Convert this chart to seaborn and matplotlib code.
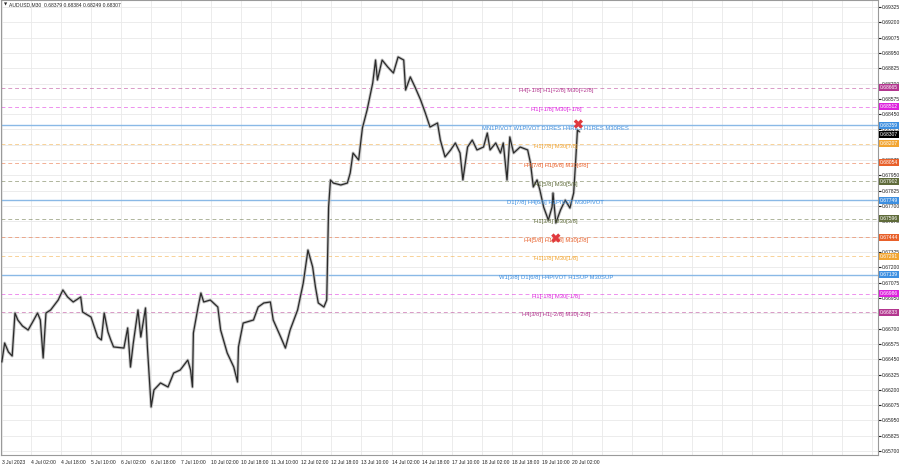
import matplotlib
matplotlib.use("Agg")
import matplotlib.pyplot as plt
import matplotlib.ticker as mticker
import numpy as np
import seaborn as sns

# M30 bar index (0 = first visible bar) and close price
bars = [0, 3, 7, 11, 14, 17, 22, 28, 34, 38,
        41, 44, 47, 52, 60, 65, 70, 76, 84, 86,
        95, 102, 106, 109, 113, 116, 119, 130, 134, 137,
        140, 145, 148, 153, 155, 159, 162, 169, 177, 183,
        190, 198, 201, 203, 204, 209, 212, 215, 222, 230,
        233, 240, 247, 251, 252, 257, 268, 273, 279, 286,
        289, 297, 302, 307, 315, 321, 326, 331, 334, 337,
        343, 346, 348, 350, 353, 361, 368, 371, 374, 380,
        384, 389, 395, 398, 400, 405, 411, 417, 422, 428,
        430, 435, 440, 446, 451, 456, 464, 467, 472, 478,
        483, 488, 491, 496, 501, 506, 513, 517, 520, 526,
        531, 534, 538, 541, 545, 552, 560, 563, 566, 570,
        573, 577, 582, 586, 587, 590, 595, 600, 605, 609,
        611, 613, 615]
close = [0.66427, 0.66582, 0.66509, 0.66476, 0.66827, 0.66770, 0.66721, 0.66688, 0.66770, 0.66827,
         0.66770, 0.66460, 0.66827, 0.66852, 0.66933, 0.67015, 0.66958, 0.66917, 0.66958, 0.66835,
         0.66794, 0.66631, 0.66607, 0.66827, 0.66672, 0.66607, 0.66550, 0.66541, 0.66705, 0.66386,
         0.66582, 0.66852, 0.66631, 0.66868, 0.66550, 0.66060, 0.66199, 0.66256, 0.66223, 0.66337,
         0.66362, 0.66443, 0.66362, 0.66223, 0.66664, 0.66876, 0.66990, 0.66917, 0.66933, 0.66876,
         0.66688, 0.66501, 0.66386, 0.66264, 0.66550, 0.66745, 0.66770, 0.66876, 0.66909, 0.66917,
         0.66770, 0.66631, 0.66541, 0.66688, 0.66852, 0.67072, 0.67341, 0.67203, 0.67039, 0.66909,
         0.66876, 0.66933, 0.67692, 0.67913, 0.67888, 0.67872, 0.67888, 0.67970, 0.68133, 0.68076,
         0.68337, 0.68484, 0.68705, 0.68892, 0.68729, 0.68892, 0.68835, 0.68786, 0.68917, 0.68892,
         0.68647, 0.68754, 0.68672, 0.68566, 0.68460, 0.68345, 0.68378, 0.68239, 0.68101, 0.68158,
         0.68215, 0.68133, 0.67913, 0.68182, 0.68239, 0.68158, 0.68182, 0.68296, 0.68158, 0.68215,
         0.68133, 0.68215, 0.67913, 0.68264, 0.68133, 0.68182, 0.68158, 0.68052, 0.67856, 0.67913,
         0.67831, 0.67692, 0.67586, 0.67692, 0.67807, 0.67562, 0.67668, 0.67749, 0.67684, 0.67807,
         0.68052, 0.68321, 0.68307]

# Murrey / pivot levels
levels = [0.68665, 0.68512, 0.68359, 0.68207, 0.68054, 0.67902, 0.67749,
          0.67596, 0.67444, 0.67291, 0.67139, 0.66986, 0.66833]
level_names = ["H4[+1/8] H1[+2/8] M30[+2/8]",
               "H1[+1/8] M30[+1/8]",
               "MN1PIVOT W1PIVOT D1RES H4RES H1RES M30RES",
               "H1[7/8] M30[7/8]",
               "H4[7/8] H1[6/8] M30[6/8]",
               "H1[5/8] M30[5/8]",
               "D1[7/8] H4[6/8] H1PIVOT M30PIVOT",
               "H1[3/8] M30[3/8]",
               "H4[5/8] H1[2/8] M30[2/8]",
               "H1[1/8] M30[1/8]",
               "W1[3/8] D1[6/8] H4PIVOT H1SUP M30SUP",
               "H1[-1/8] M30[-1/8]",
               "H4[3/8] H1[-2/8] M30[-2/8]"]
level_kind = ["pink", "magenta", "blue", "orange", "red", "olive", "blue",
              "olive", "red", "orange", "blue", "magenta", "pink"]

# reversal marks (bar, price)
mark_bars = [614, 590]
mark_price = [0.68370, 0.67439]

last_price = 0.68307
x_labels = ["3 Jul 2023", "4 Jul 02:00", "4 Jul 18:00", "5 Jul 10:00", "6 Jul 02:00",
            "6 Jul 18:00", "7 Jul 10:00", "10 Jul 02:00", "10 Jul 18:00", "11 Jul 10:00",
            "12 Jul 02:00", "12 Jul 18:00", "13 Jul 10:00", "14 Jul 02:00", "14 Jul 18:00",
            "17 Jul 10:00", "18 Jul 02:00", "18 Jul 18:00", "19 Jul 10:00", "20 Jul 02:00"]
title = "AUDUSD,M30  0.68379 0.68384 0.68249 0.68307"

palette = {"pink": "#b3368f", "magenta": "#dd22dd", "blue": "#3d8fe0",
           "orange": "#f2a531", "red": "#e8602a", "olive": "#5f6b3a"}

sns.set_style("white")
plt.rcParams["font.family"] = ["Liberation Sans Narrow", "Liberation Sans", "DejaVu Sans"]
small = 3.6

fig = plt.figure(figsize=(9, 4.68), dpi=100)
ax = fig.add_axes([0.001, 13 / 468, 877 / 900, 455 / 468])

ax.set_xlim(-1, 933)
ax.set_ylim(0.65668, 0.69382)

# grid: price scale steps of 0.00125 starting at 0.65700
ax.yaxis.set_major_locator(mticker.FixedLocator(np.arange(0.65700, 0.6935, 0.00125)))
ax.yaxis.set_major_formatter(mticker.FormatStrFormatter("%.5f"))
grid_pos = list(range(31, 933, 32))
ax.set_xticks([0] + grid_pos)
ax.set_xticklabels(x_labels + [""] * (len(grid_pos) + 1 - len(x_labels)),
                   ha="left", fontsize=small)
ax.grid(True, color="#e9e9e9", lw=0.6)
ax.set_axisbelow(True)

ax.yaxis.tick_right()
ax.tick_params(axis="y", labelsize=small, length=2, pad=1, colors="#222222")
ax.tick_params(axis="x", labelsize=small, length=2, pad=1.5, colors="#222222")
for s in ax.spines.values():
    s.set_color("#9a9a9a")
    s.set_linewidth(0.8)

# levels
for lv, name, kind in zip(levels, level_names, level_kind):
    col = palette[kind]
    if kind == "blue":
        ax.axhline(lv, color="#8ab9e6", lw=1.0, zorder=1)
    else:
        ax.axhline(lv, color=col, lw=0.7, ls=(0, (4, 3)), alpha=0.5, zorder=1)
    ax.text(590, lv - 0.00022, name, color=col, fontsize=4.2, ha="center",
            va="center", zorder=4)
    ax.text(1.002, lv, f"{lv:.5f}", transform=ax.get_yaxis_transform(),
            fontsize=small, color="white", ha="left", va="center", clip_on=False,
            bbox=dict(boxstyle="square,pad=0.2", fc=col, ec="none"), zorder=6)

ax.text(1.002, last_price - 0.0002, f"{last_price:.5f}", transform=ax.get_yaxis_transform(),
        fontsize=small, color="white", ha="left", va="center", clip_on=False,
        bbox=dict(boxstyle="square,pad=0.2", fc="black", ec="none"), zorder=6)

# price
sns.lineplot(x=bars, y=close, ax=ax, color="#c4c4c4", lw=2.2, zorder=2)
sns.lineplot(x=bars, y=close, ax=ax, color="#2a2a2a", lw=0.9, zorder=3)
sns.scatterplot(x=mark_bars, y=mark_price, ax=ax, marker="X", s=45,
                color="#e0393e", edgecolor="none", zorder=5)

ax.set_xlabel("")
ax.set_ylabel("")
ax.text(0.0035, 0.994, "\u25bc", transform=ax.transAxes, fontsize=3,
        va="top", family="DejaVu Sans")
ax.text(0.009, 0.994, title, transform=ax.transAxes, fontsize=small, va="top")

fig.savefig("out.png", dpi=100)
